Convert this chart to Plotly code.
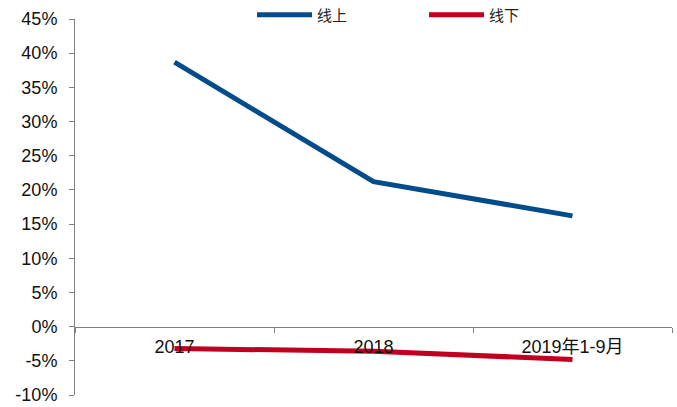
import plotly.graph_objects as go

categories = ["2017", "2018", "2019年1-9月"]
online = [38.7, 21.2, 16.2]
offline = [-3.2, -3.6, -4.8]
y_ticks = [-10, -5, 0, 5, 10, 15, 20, 25, 30, 35, 40, 45]
y_tick_labels = [f"{v}%" for v in y_ticks]

FONT = "Arial, 'Liberation Sans', 'Noto Sans CJK SC', sans-serif"

fig = go.Figure()
fig.add_trace(go.Scatter(x=categories, y=online, mode="lines", name="线上",
                         line=dict(color="#034C8C", width=5)))
fig.add_trace(go.Scatter(x=categories, y=offline, mode="lines", name="线下",
                         line=dict(color="#C00020", width=5)))

ymin, ymax = -10, 45
fig.update_layout(
    width=677, height=407,
    margin=dict(l=75, r=5, t=19, b=12, autoexpand=False),
    paper_bgcolor="white", plot_bgcolor="white",
    font=dict(family=FONT, size=18, color="#111111"),
    showlegend=True,
    legend=dict(orientation="h", x=0.2965, xanchor="left",
                yref="container", y=1 - 15 / 407, yanchor="middle",
                itemwidth=55, entrywidth=102,
                font=dict(size=15, family="'Noto Sans CJK SC', sans-serif", color="#222222"),
                bgcolor="rgba(0,0,0,0)"),
    xaxis=dict(type="category", range=[-0.5, 2.5], anchor="free",
               position=(0 - ymin) / (ymax - ymin),
               showline=True, linecolor="#808080", linewidth=1,
               ticks="outside", tickson="boundaries", ticklen=5, tickcolor="#808080",
               ticklabelstandoff=4,
               showgrid=False, zeroline=False,
               tickfont=dict(size=18, family=FONT)),
    yaxis=dict(range=[ymin, ymax], tickvals=y_ticks, ticktext=y_tick_labels,
               showline=True, linecolor="#808080", linewidth=1,
               ticks="outside", ticklen=5, tickcolor="#808080",
               ticklabelstandoff=8,
               showgrid=False, zeroline=False,
               tickfont=dict(size=18, family=FONT)),
)

fig.write_html("out.html")
